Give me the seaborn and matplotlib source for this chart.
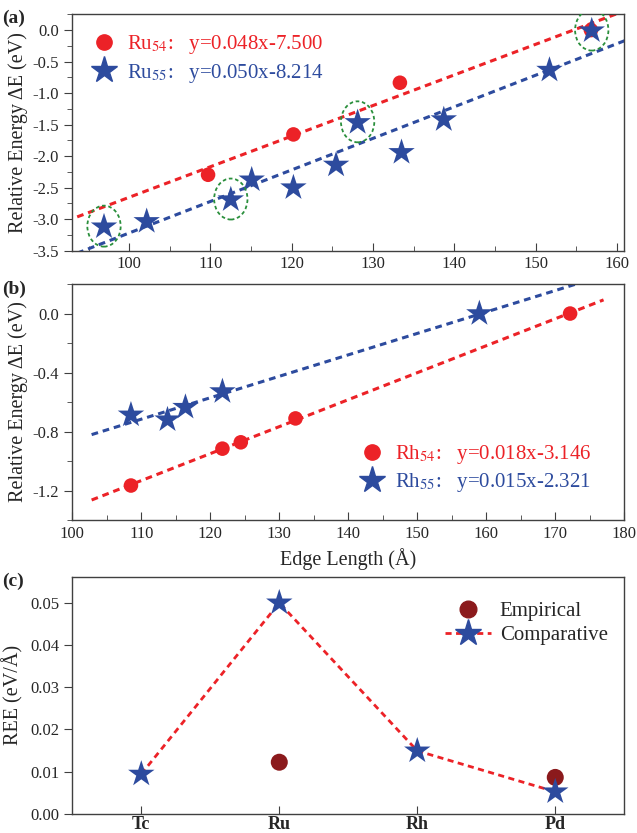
import numpy as np
import pandas as pd
import matplotlib.pyplot as plt
import seaborn as sns
from matplotlib.patches import Ellipse
from matplotlib.ticker import MultipleLocator
from matplotlib.lines import Line2D

# Panel (a): Ru clusters
ru54_x = [109.7, 120.2, 133.3, 156.8]
ru54_y = [-2.295, -1.655, -0.835, 0.0]
ru55_x = [96.9, 102.15, 112.5, 115.07, 120.2, 125.45, 128.1, 133.5, 138.7, 151.7, 156.9]
ru55_y = [-3.12, -3.035, -2.69, -2.375, -2.50, -2.14, -1.465, -1.94, -1.42, -0.635, -0.01]
circled = [0, 2, 6, 10]  # Ru55 points marked with green ellipses

# Panel (b): Rh clusters
rh54_x = [108.5, 121.76, 124.42, 132.35, 172.15]
rh54_y = [-1.166, -0.916, -0.873, -0.711, 0.0]
rh55_x = [108.5, 113.8, 116.4, 121.76, 159.0]
rh55_y = [-0.687, -0.72, -0.635, -0.529, 0.0]

# Panel (c): REE
metals = ['Tc', 'Ru', 'Rh', 'Pd']
comparative = [0.0094, 0.050, 0.0149, 0.0052]
emp_metals = ['Ru', 'Pd']
empirical = [0.0122, 0.0086]

RED = '#ec2227'
BLUE = '#2d4b9e'
DARKRED = '#8b1a1c'
GREEN = '#2a8f3c'

sns.set_style('ticks')
plt.rcParams['font.family'] = ['Liberation Serif', 'DejaVu Serif']
plt.rcParams['mathtext.fontset'] = 'stix'
plt.rcParams['axes.unicode_minus'] = False

fig = plt.figure(figsize=(6.37, 8.33), dpi=100)
ax1 = fig.add_axes([0.1135, 0.699, 0.8665, 0.2838])
ax2 = fig.add_axes([0.1135, 0.3757, 0.8665, 0.2833])
ax3 = fig.add_axes([0.1135, 0.0232, 0.8665, 0.2845])


def fit_line(ax, x, y, x0, x1, color):
    k, b = np.polyfit(x, y, 1)
    xs = np.linspace(x0, x1, 50)
    ax.plot(xs, k * xs + b, ls=(0, (2.2, 1.6)), lw=2.2, color=color, zorder=1)


def style_axes(ax):
    for s in ax.spines.values():
        s.set_color('#404040')
        s.set_linewidth(1.0)
    ax.tick_params(axis='x', which='both', direction='in', labelsize=12,
                   color='#404040', pad=4)
    ax.tick_params(axis='y', which='both', direction='out', labelsize=12,
                   color='#404040')
    ax.tick_params(which='major', length=6)
    ax.tick_params(which='minor', length=3.5)


# ---- (a)
fit_line(ax1, ru54_x, ru54_y, 93.6, 161, RED)
fit_line(ax1, ru55_x, ru55_y, 93.6, 161, BLUE)
sns.scatterplot(x=ru54_x, y=ru54_y, ax=ax1, color=RED, s=110, marker='o',
                edgecolor='none', zorder=3)
sns.scatterplot(x=ru55_x, y=ru55_y, ax=ax1, color=BLUE, s=400, marker='*',
                edgecolor='none', zorder=3)
for i in circled:
    ax1.add_patch(Ellipse((ru55_x[i], ru55_y[i] + 0.01), 4.1, 0.65, fill=False,
                          ec=GREEN, ls=(0, (2, 1.5)), lw=1.3, zorder=4))
ax1.set_xlim(93, 160.9)
ax1.set_ylim(-3.5, 0.25)
ax1.xaxis.set_major_locator(MultipleLocator(10))
ax1.xaxis.set_minor_locator(MultipleLocator(5))
ax1.yaxis.set_major_locator(MultipleLocator(0.5))
ax1.yaxis.set_minor_locator(MultipleLocator(0.25))
ax1.yaxis.set_major_formatter(plt.FormatStrFormatter('%.1f'))
ax1.set_ylabel('Relative Energy ΔE (eV)', fontsize=14.5, labelpad=3)
style_axes(ax1)
h1 = [Line2D([], [], ls='none', marker='o', ms=11, color=RED),
      Line2D([], [], ls='none', marker='*', ms=20, color=BLUE)]
leg = ax1.legend(h1, ['Ru$_{54}$:   y=0.048x-7.500', 'Ru$_{55}$:   y=0.050x-8.214'],
                 loc='upper left', frameon=False, fontsize=15, handletextpad=0.3,
                 borderaxespad=0, labelspacing=0.25, handlelength=1.6,
                 bbox_to_anchor=(0.012, 0.955))
for t, c in zip(leg.get_texts(), [RED, BLUE]):
    t.set_color(c)

# ---- (b)
fit_line(ax2, rh54_x, rh54_y, 102.8, 177, RED)
fit_line(ax2, rh55_x, rh55_y, 102.8, 177, BLUE)
sns.scatterplot(x=rh54_x, y=rh54_y, ax=ax2, color=RED, s=110, marker='o',
                edgecolor='none', zorder=3)
sns.scatterplot(x=rh55_x, y=rh55_y, ax=ax2, color=BLUE, s=400, marker='*',
                edgecolor='none', zorder=3)
ax2.set_xlim(100, 180)
ax2.set_ylim(-1.4, 0.2)
ax2.xaxis.set_major_locator(MultipleLocator(10))
ax2.xaxis.set_minor_locator(MultipleLocator(5))
ax2.yaxis.set_major_locator(MultipleLocator(0.4))
ax2.yaxis.set_minor_locator(MultipleLocator(0.2))
ax2.yaxis.set_major_formatter(plt.FormatStrFormatter('%.1f'))
ax2.set_ylabel('Relative Energy ΔE (eV)', fontsize=14.5, labelpad=3)
ax2.set_xlabel('Edge Length (Å)', fontsize=14.5, labelpad=5)
style_axes(ax2)
leg = ax2.legend(h1, ['Rh$_{54}$:   y=0.018x-3.146', 'Rh$_{55}$:   y=0.015x-2.321'],
                 loc='lower right', frameon=False, fontsize=15, handletextpad=0.3,
                 borderaxespad=0, labelspacing=0.25, handlelength=1.6,
                 bbox_to_anchor=(0.955, 0.075))
for t, c in zip(leg.get_texts(), [RED, BLUE]):
    t.set_color(c)

# ---- (c)
df_c = pd.DataFrame({'metal': metals, 'REE': comparative})
df_e = pd.DataFrame({'metal': emp_metals, 'REE': empirical})
pos = {m: i for i, m in enumerate(metals)}
df_c['pos'] = df_c['metal'].map(pos)
df_e['pos'] = df_e['metal'].map(pos)
sns.lineplot(data=df_c, x='pos', y='REE', ax=ax3, color=RED, lw=2.0,
             ls=(0, (2.2, 1.6)), zorder=1)
sns.scatterplot(data=df_e, x='pos', y='REE', ax=ax3, color=DARKRED, s=150,
                marker='o', edgecolor='none', zorder=2)
sns.scatterplot(data=df_c, x='pos', y='REE', ax=ax3, color=BLUE, s=400,
                marker='*', edgecolor='none', zorder=3)
ax3.set_xlim(-0.5, 3.5)
ax3.set_ylim(0, 0.0562)
ax3.set_xticks(range(len(metals)))
ax3.set_xticklabels(metals, fontweight='bold')
ax3.yaxis.set_major_locator(MultipleLocator(0.01))
ax3.yaxis.set_major_formatter(plt.FormatStrFormatter('%.2f'))
ax3.set_xlabel('')
ax3.set_ylabel('REE (eV/Å)', fontsize=14.5, labelpad=5)
style_axes(ax3)
ax3.tick_params(axis='x', pad=1.5, labelsize=13)
h3 = [Line2D([], [], ls='none', marker='o', ms=12, color=DARKRED),
      Line2D([], [], ls=(0, (2.2, 1.6)), lw=2, marker='*', ms=20, color=RED,
             mfc=BLUE, mec=BLUE)]
ax3.legend(h3, ['Empirical', 'Comparative'], loc='upper right', frameon=False,
           fontsize=15, handlelength=2.2, handletextpad=0.4, labelspacing=0.2,
           borderaxespad=0, bbox_to_anchor=(0.985, 0.93))

for ax, lab, y in [(ax1, '(a)', 0.988), (ax2, '(b)', 0.663), (ax3, '(c)', 0.312)]:
    fig.text(0.004, y, lab, fontsize=14, fontweight='bold', va='top')

fig.savefig('out.png', dpi=100)
